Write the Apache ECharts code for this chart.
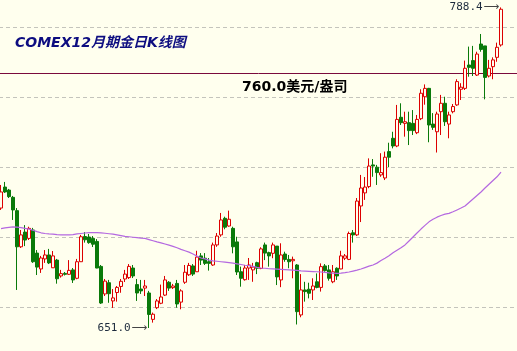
<!DOCTYPE html>
<html>
<head>
<meta charset="utf-8">
<script src="https://cdn.jsdelivr.net/npm/echarts@6/dist/echarts.min.js"></script>
<style>html,body{margin:0;padding:0;background:#FFFFEE;}#c{width:517px;height:351px;}</style>
</head>
<body>
<div id="c"></div>
<script>
const opens = [
702.4,711.4,710.1,707.0,701.3,685.8,692.1,689.4,693.0,683.1,
676.3,680.6,682.3,676.8,680.1,673.3,674.4,674.0,675.9,672.3,
679.4,690.2,690.0,689.4,688.1,677.4,665.6,670.4,662.6,666.2,
668.8,672.0,672.6,676.7,669.6,667.7,668.1,666.0,654.7,659.7,
661.6,665.1,670.6,668.3,670.1,662.1,670.6,673.8,677.6,675.1,
681.9,680.9,679.4,678.0,686.6,690.9,698.0,694.7,693.7,687.9,
675.1,671.7,676.7,675.9,679.0,676.5,686.6,683.3,683.0,686.1,
671.6,682.7,680.4,679.8,678.0,656.6,667.3,667.6,667.3,670.8,
668.4,677.6,675.9,670.8,676.6,676.3,680.9,680.4,691.8,690.9,
703.3,708.9,711.6,720.9,719.9,716.6,715.3,726.6,732.3,729.0,
741.3,738.7,739.0,738.7,734.7,740.7,750.1,753.7,738.4,735.1,
743.7,747.3,738.4,743.7,746.6,753.3,753.7,763.7,765.6,759.4,
772.7,771.9,759.0,763.0,767.0,772.3];
const closes = [
709.3,709.3,707.3,701.6,685.8,690.9,688.7,693.7,679.4,677.1,
681.0,682.3,678.9,681.9,672.1,674.3,674.0,675.7,671.6,679.4,
690.1,688.8,687.6,686.9,676.7,661.7,671.1,665.7,663.9,668.4,
671.0,674.1,677.4,673.3,666.0,666.9,669.0,656.8,656.9,662.6,
664.3,671.6,668.1,669.0,661.3,666.9,674.9,677.8,674.1,681.4,
680.1,678.7,678.7,686.6,690.4,697.3,694.2,697.6,685.8,675.0,
672.3,676.7,678.0,677.1,676.6,684.9,683.1,681.9,686.6,672.9,
682.3,680.4,679.4,680.4,658.0,667.3,666.6,665.9,669.0,668.4,
677.3,675.6,672.3,675.1,673.3,681.9,681.9,691.5,690.9,705.4,
711.0,711.4,720.4,720.4,717.6,717.6,724.2,724.2,729.0,740.4,
739.0,739.4,735.6,735.6,740.4,751.6,753.7,738.0,737.0,742.7,
747.3,739.4,742.3,745.9,756.6,754.2,762.3,762.7,762.3,768.4,
770.4,758.4,762.3,765.9,771.3,787.6];
const lows = [
701.6,708.9,706.7,697.3,667.3,685.3,686.1,688.7,678.9,673.7,
674.6,678.9,678.4,676.7,670.0,672.6,673.5,673.7,670.3,671.9,
679.3,687.6,687.1,685.7,676.6,661.3,664.7,661.8,659.6,662.3,
666.1,670.7,672.0,672.4,662.6,665.6,664.7,651.0,653.3,659.1,
661.2,664.7,666.9,667.7,659.7,659.0,669.9,673.3,673.3,675.0,
678.0,678.0,675.6,677.6,685.8,690.1,693.3,694.4,683.0,673.7,
668.7,671.3,671.6,670.8,674.1,676.2,680.1,677.3,680.9,669.4,
668.5,679.4,676.6,672.3,652.5,655.6,662.3,663.7,663.0,668.0,
666.6,675.1,671.3,670.2,671.6,676.2,680.1,680.1,687.6,690.4,
696.4,705.9,710.9,715.8,712.3,715.8,714.4,719.9,728.0,728.5,
738.0,733.0,729.4,733.7,734.1,740.1,746.7,730.6,735.9,726.2,
733.7,737.6,732.3,743.0,746.2,748.7,753.0,758.7,759.0,759.0,
769.4,749.0,758.4,757.6,765.1,771.6];
const highs = [
712.3,713.6,710.6,707.6,702.4,693.0,695.1,694.4,693.9,684.4,
681.9,684.4,684.9,684.0,680.6,675.9,675.0,680.1,676.7,680.6,
690.9,692.1,691.3,690.4,689.1,678.0,672.0,671.6,667.7,669.0,
672.0,675.9,678.4,678.0,672.0,671.6,671.6,666.9,657.6,663.4,
669.6,673.3,671.1,669.9,671.6,667.6,678.0,678.9,678.4,684.1,
683.1,683.1,681.0,687.6,691.7,700.3,698.7,701.3,694.4,690.1,
677.3,678.0,681.0,678.9,679.4,685.6,687.6,683.7,687.6,686.1,
687.3,683.7,682.3,681.6,678.4,674.1,670.8,670.4,672.3,674.4,
678.7,678.4,678.0,678.0,677.0,684.1,682.7,692.3,693.0,706.7,
716.6,715.7,723.7,723.4,720.9,725.9,726.6,730.4,735.1,746.6,
747.3,743.7,743.7,744.4,742.3,753.3,755.4,753.9,743.1,743.7,
750.9,750.1,743.7,747.0,757.6,755.9,765.6,771.6,771.9,769.4,
777.0,771.9,765.9,767.0,773.3,788.4];
const ma = [
693.6,693.9,694.1,694.3,694.2,694.0,693.7,693.4,692.9,692.3,
691.8,691.5,691.3,691.2,691.0,690.9,690.9,690.9,691.0,691.3,
691.5,691.7,691.9,691.9,691.9,691.8,691.6,691.4,691.2,690.9,
690.6,690.3,690.1,689.9,689.7,689.5,689.4,688.9,688.4,687.9,
687.5,687.0,686.5,686.0,685.4,684.7,684.1,683.5,682.7,681.8,
681.0,680.6,680.1,679.8,679.6,679.4,679.2,679.0,678.8,678.5,
678.2,677.9,677.7,677.4,677.0,676.7,676.6,676.4,676.3,676.2,
676.1,676.0,675.9,675.8,675.7,675.5,675.4,675.3,675.2,675.1,
675.0,674.8,674.6,674.5,674.4,674.5,674.7,675.0,675.4,675.8,
676.3,676.9,677.5,678.0,678.8,679.9,680.9,682.0,683.2,684.3,
685.4,686.6,688.3,690.0,691.7,693.4,695.0,696.5,697.6,698.5,
699.2,699.8,700.1,700.8,701.6,702.4,703.3,704.8,706.3,707.8,
709.3,711.0,712.6,714.2,715.8,717.8];
// trading days shown plus a few blank slots at the right edge of the window
const categories = opens.map((_, i) => 'D' + (i + 1)).concat(['', '', '', '']);
const gridPrices = [660, 690, 720, 750, 780];
const refPrice = 760.0;
const refLabel = '760.0美元/盎司';
const titleText = 'COMEX12月期金日K线图';
const highMark = { idx: 125, value: 788.4, text: '788.4' };
const lowMark = { idx: 37, value: 651.0, text: '651.0' };

const kData = opens.map((o, i) => [o, closes[i], lows[i], highs[i]]);
const chart = echarts.init(document.getElementById('c'), null, { renderer: 'canvas' });
const bg = '#FFFFEE';
const markLabel = (t) => ({
  show: true, position: 'left', distance: 1,
  formatter: '{n|' + t + '}{a|⟶}',
  rich: {
    n: { fontFamily: 'DejaVu Sans Mono', fontSize: 11, color: '#1c2a3c' },
    a: { fontFamily: 'DejaVu Sans', fontSize: 11, color: '#444', padding: [0, 0, 0, 1] }
  }
});
const gridLineData = gridPrices.map(p => ({ yAxis: p, lineStyle: { color: '#c4c4bc', type: [4, 3], width: 1 } }));
gridLineData.push({ yAxis: refPrice, lineStyle: { color: '#7a0a3c', type: 'solid', width: 1 } });
chart.setOption({
  animation: false,
  backgroundColor: bg,
  title: {
    text: titleText, left: 10, top: 31,
    textStyle: { fontSize: 14, fontWeight: 'bold', fontStyle: 'italic', color: '#0d0d80', fontFamily: 'DejaVu Sans, Noto Sans CJK SC' }
  },
  graphic: [{
    type: 'text', left: 242, top: 80,
    style: { text: refLabel, font: 'bold 14px "DejaVu Sans", "Noto Sans CJK SC"', fill: '#000' }
  }],
  grid: { left: -1, right: -2, top: 0, bottom: 0, show: false, outerBoundsMode: 'none' },
  xAxis: {
    type: 'category', data: categories, boundaryGap: true,
    axisLine: { show: false }, axisTick: { show: false }, axisLabel: { show: false }, splitLine: { show: false }
  },
  yAxis: {
    type: 'value', min: 641.14, max: 791.57,
    axisLine: { show: false }, axisTick: { show: false }, axisLabel: { show: false },
    splitLine: { show: false }
  },
  series: [{
    type: 'candlestick', data: kData, barWidth: 3, clip: false,
    itemStyle: { color: bg, color0: '#0a7a0a', borderColor: '#dd0000', borderColor0: '#0a7a0a', borderWidth: 1 },
    markLine: {
      silent: true, symbol: ['none', 'none'], label: { show: false }, z: 1,
      data: gridLineData
    },
    markPoint: {
      silent: true, symbol: 'circle', symbolSize: 1, itemStyle: { color: 'rgba(0,0,0,0)' },
      data: [
        { coord: [highMark.idx, highMark.value], label: markLabel(highMark.text) },
        { coord: [lowMark.idx, lowMark.value], label: markLabel(lowMark.text) }
      ]
    }
  }, {
    type: 'line', data: ma, symbol: 'none', smooth: false,
    lineStyle: { color: '#b468e0', width: 1.2 }, z: 3
  }]
});
</script>
</body>
</html>
